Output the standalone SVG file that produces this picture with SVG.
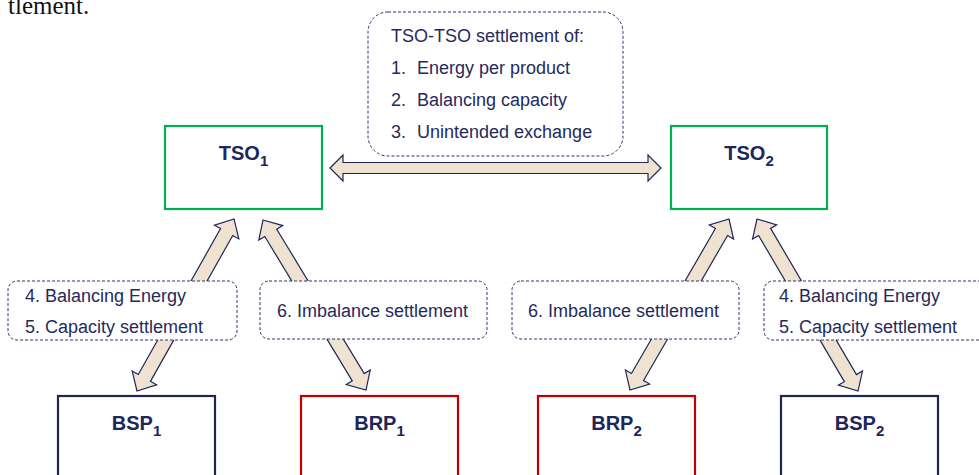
<svg xmlns="http://www.w3.org/2000/svg" width="979" height="475" viewBox="0 0 979 475">
<style>
.bg{fill:#ffffff}
.node{fill:#ffffff;stroke-width:2.2}
.tso{stroke:#00B050}
.bsp{stroke:#1F2555}
.brp{stroke:#C00000}
.ntext{font-family:"Liberation Sans",Arial,sans-serif;font-weight:bold;font-size:20px;fill:#20255A}
.sub{font-size:15px}
.arrow{fill:#EFE2D0;stroke:#20255A;stroke-width:1.2;stroke-linejoin:miter}
.lbl{fill:#ffffff;stroke:#2E3466;stroke-width:1;stroke-dasharray:3 2}
.ltext{font-family:"Liberation Sans",Arial,sans-serif;font-size:18px;fill:#252A5C}
.page{font-family:"Liberation Serif","Times New Roman",serif;font-size:25px;fill:#111111}
</style>
<rect class="bg" x="0" y="0" width="979" height="475"/>
<text class="page" x="8" y="14">tlement.</text>

<g id="connectors">
  <polygon id="arrow-tso1-tso2" class="arrow" points="330,168 343,155 343,162.5 648,162.5 648,155 661,168 648,181 648,173.5 343,173.5 343,181"/>
  <polygon id="arrow-bsp1-tso1" class="arrow" transform="translate(137,391) rotate(-60.58)" points="0,0 15,-14 15,-7 182.5,-7 182.5,-14 197.5,0 182.5,14 182.5,7 15,7 15,14"/>
  <polygon id="arrow-tso1-brp1" class="arrow" transform="translate(263,220) rotate(58.79)" points="0,0 15,-14 15,-7 183.8,-7 183.8,-14 198.8,0 183.8,14 183.8,7 15,7 15,14"/>
  <polygon id="arrow-tso2-brp2" class="arrow" transform="translate(729,219) rotate(120.07)" points="0,0 15,-14 15,-7 182.6,-7 182.6,-14 197.6,0 182.6,14 182.6,7 15,7 15,14"/>
  <polygon id="arrow-tso2-bsp2" class="arrow" transform="translate(757,219) rotate(59.58)" points="0,0 15,-14 15,-7 184.5,-7 184.5,-14 199.5,0 184.5,14 184.5,7 15,7 15,14"/>
</g>

<g id="label-tso-tso">
  <rect class="lbl" x="368" y="12" width="255" height="144" rx="20" ry="20"/>
  <text class="ltext" x="391" y="42">TSO-TSO settlement of:</text>
  <text class="ltext" x="391" y="74">1.</text>
  <text class="ltext" x="417" y="74">Energy per product</text>
  <text class="ltext" x="391" y="106">2.</text>
  <text class="ltext" x="417" y="106">Balancing capacity</text>
  <text class="ltext" x="391" y="138">3.</text>
  <text class="ltext" x="417" y="138">Unintended exchange</text>
</g>

<g id="label-bsp1">
  <rect class="lbl" x="8" y="281" width="229" height="59" rx="9" ry="9"/>
  <text class="ltext" x="25" y="302">4. Balancing Energy</text>
  <text class="ltext" x="25" y="333">5. Capacity settlement</text>
</g>
<g id="label-brp1">
  <rect class="lbl" x="260" y="281" width="227" height="58" rx="9" ry="9"/>
  <text class="ltext" x="277" y="317">6. Imbalance settlement</text>
</g>
<g id="label-brp2">
  <rect class="lbl" x="512" y="281" width="227" height="58" rx="9" ry="9"/>
  <text class="ltext" x="528" y="317">6. Imbalance settlement</text>
</g>
<g id="label-bsp2">
  <rect class="lbl" x="764" y="281" width="229" height="59" rx="9" ry="9"/>
  <text class="ltext" x="779" y="302">4. Balancing Energy</text>
  <text class="ltext" x="779" y="333">5. Capacity settlement</text>
</g>

<g id="tso1">
  <rect class="node tso" x="165" y="126" width="157" height="83"/>
  <text class="ntext" x="243.5" y="160" text-anchor="middle">TSO<tspan class="sub" dy="6">1</tspan></text>
</g>
<g id="tso2">
  <rect class="node tso" x="671" y="126" width="156" height="83"/>
  <text class="ntext" x="749" y="160" text-anchor="middle">TSO<tspan class="sub" dy="6">2</tspan></text>
</g>
<g id="bsp1">
  <rect class="node bsp" x="58" y="396" width="157" height="100"/>
  <text class="ntext" x="136.5" y="430" text-anchor="middle">BSP<tspan class="sub" dy="6">1</tspan></text>
</g>
<g id="brp1">
  <rect class="node brp" x="301" y="396" width="157" height="100"/>
  <text class="ntext" x="379.5" y="430" text-anchor="middle">BRP<tspan class="sub" dy="6">1</tspan></text>
</g>
<g id="brp2">
  <rect class="node brp" x="538" y="396" width="157" height="100"/>
  <text class="ntext" x="616.5" y="430" text-anchor="middle">BRP<tspan class="sub" dy="6">2</tspan></text>
</g>
<g id="bsp2">
  <rect class="node bsp" x="781" y="396" width="157" height="100"/>
  <text class="ntext" x="859.5" y="430" text-anchor="middle">BSP<tspan class="sub" dy="6">2</tspan></text>
</g>
</svg>
